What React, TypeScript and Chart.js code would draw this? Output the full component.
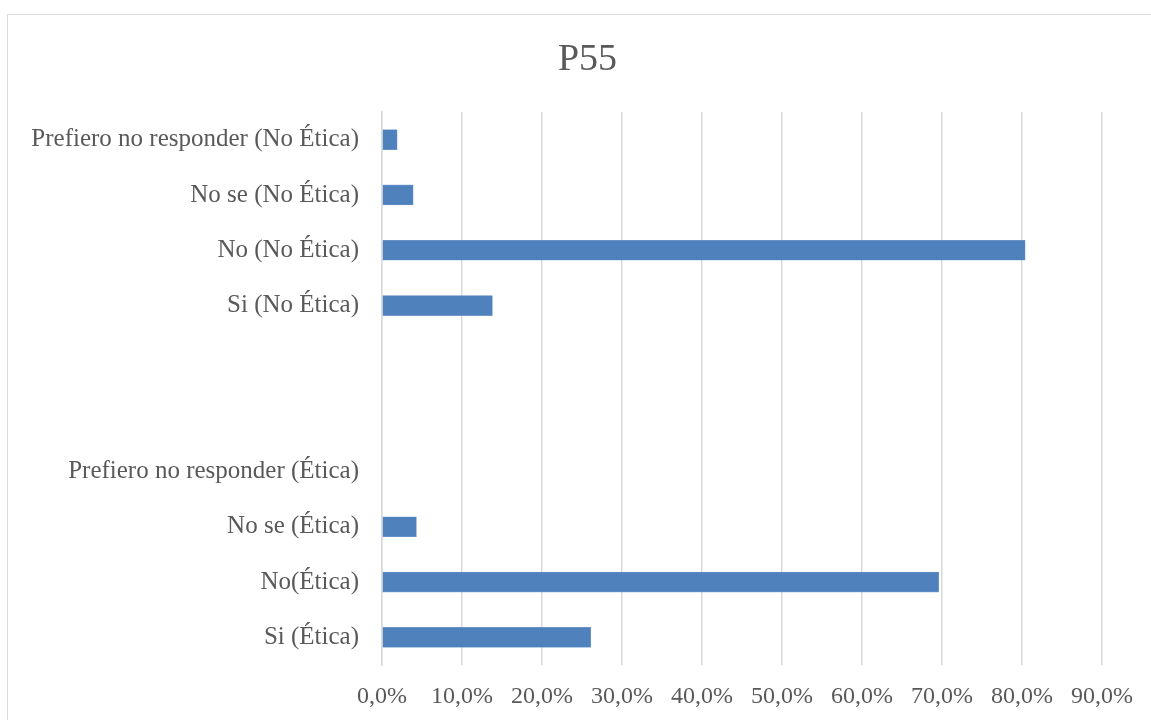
import React, { useEffect, useRef } from "react";
import { Chart, registerables } from "chart.js";

Chart.register(...registerables);

// Answer categories, listed top to bottom as drawn
const categories: string[] = [
  "Prefiero no responder (No Ética)",
  "No se (No Ética)",
  "No (No Ética)",
  "Si (No Ética)",
  "",
  "",
  "Prefiero no responder (Ética)",
  "No se (Ética)",
  "No(Ética)",
  "Si (Ética)",
];

// Share of responses, in percent
const shares: (number | null)[] = [1.9, 3.9, 80.4, 13.8, null, null, 0, 4.3, 69.6, 26.1];

const xTicks: number[] = [0, 10, 20, 30, 40, 50, 60, 70, 80, 90];

const chartTitle = "P55";

const TEXT = "#595959";
const GRID = "#d9d9d9";
const BAR = "#4f81bd";
const FONT = "'Liberation Serif', serif";

// Title centred over the whole chart box, drawn above the plot area
const titlePlugin = {
  id: "centredTitle",
  afterDraw(chart: any) {
    const { ctx, width } = chart;
    ctx.save();
    ctx.fillStyle = TEXT;
    ctx.font = `38px ${FONT}`;
    ctx.textAlign = "center";
    ctx.textBaseline = "alphabetic";
    ctx.fillText(chartTitle, width / 2, 55);
    ctx.restore();
  },
};

export default function App() {
  const canvasRef = useRef<HTMLCanvasElement | null>(null);

  useEffect(() => {
    document.body.style.overflow = "hidden";
    const canvas = canvasRef.current;
    if (!canvas) return;
    const chart = new Chart(canvas, {
      type: "bar",
      data: {
        labels: categories,
        datasets: [
          {
            label: chartTitle,
            data: shares,
            backgroundColor: BAR,
            borderColor: "#7fa3d3",
            borderWidth: 0.6,
            borderSkipped: false,
            barThickness: 20,
          },
        ],
      },
      options: {
        indexAxis: "y",
        animation: false,
        responsive: true,
        maintainAspectRatio: false,
        layout: { padding: { left: 0, right: 65, top: 97, bottom: 0 } },
        plugins: {
          legend: { display: false },
          tooltip: { enabled: false },
          title: { display: false },
        },
        scales: {
          x: {
            min: 0,
            max: 90,
            afterBuildTicks: (scale: any) => {
              scale.ticks = xTicks.map((v) => ({ value: v }));
            },
            afterFit: (scale: any) => {
              scale.height = 68;
            },
            grid: { color: GRID, lineWidth: 1.5, drawTicks: false },
            border: { display: false },
            ticks: {
              padding: 17,
              color: TEXT,
              font: { family: FONT, size: 24 },
              maxRotation: 0,
              callback: (v: any) => Number(v).toFixed(1).replace(".", ",") + "%",
            },
          },
          y: {
            afterFit: (scale: any) => {
              scale.width = 374;
            },
            grid: { display: false, drawTicks: false },
            border: { display: true, color: GRID, width: 1.5 },
            ticks: {
              padding: 23,
              color: TEXT,
              font: { family: FONT, size: 25 },
              autoSkip: false,
            },
          },
        },
      },
      plugins: [titlePlugin],
    });
    return () => chart.destroy();
  }, []);

  return (
    <div
      style={{
        position: "fixed",
        left: 7,
        top: 14,
        width: 1161,
        height: 720,
        border: `1px solid ${GRID}`,
        boxSizing: "border-box",
        background: "#fff",
      }}
    >
      <div style={{ position: "relative", width: 1159, height: 718 }}>
        <canvas ref={canvasRef} />
      </div>
    </div>
  );
}
